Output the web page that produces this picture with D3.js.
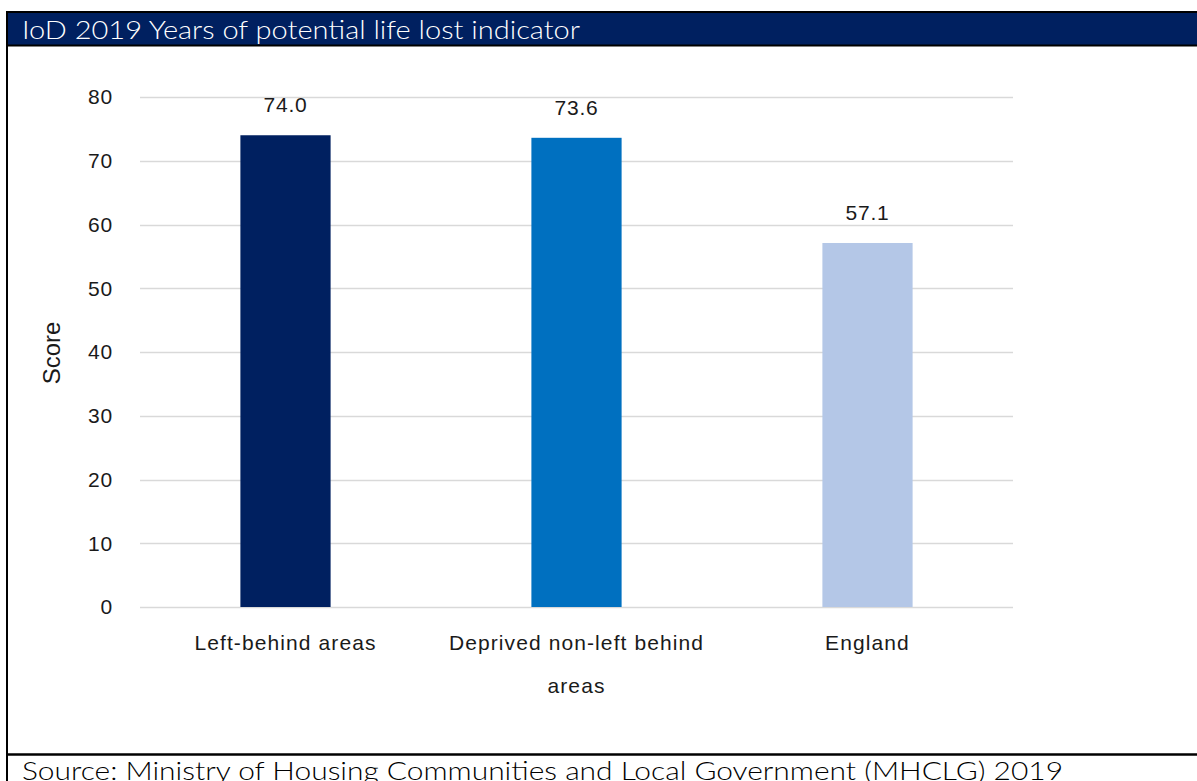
<!DOCTYPE html>
<html>
<head>
<meta charset="utf-8">
<script src="https://cdn.jsdelivr.net/npm/d3@7"></script>
<style>
  html, body { margin: 0; padding: 0; background: #fff; }
  svg { display: block; }
</style>
</head>
<body>
<script>
// Chart data
const categories = ["Left-behind areas", "Deprived non-left behind areas", "England"];
const categoryLines = [["Left-behind areas"], ["Deprived non-left behind", "areas"], ["England"]];
const scores = [74.0, 73.6, 57.1];
const barColors = ["#002060", "#0070C0", "#B4C7E7"];
const yTicks = [0, 10, 20, 30, 40, 50, 60, 70, 80];
const titleText = "IoD 2019 Years of potential life lost indicator";
const sourceText = "Source: Ministry of Housing Communities and Local Government (MHCLG) 2019";
const yAxisLabel = "Score";

const W = 1197, H = 781;
const svg = d3.select("body").append("svg").attr("width", W).attr("height", H);

// Frame and header band
svg.append("rect").attr("x", 7).attr("y", 12).attr("width", W - 7).attr("height", 33).attr("fill", "#002060");
svg.append("line").attr("x1", 6).attr("x2", W).attr("y1", 12).attr("y2", 12).attr("stroke", "#000").attr("stroke-width", 2);
svg.append("line").attr("x1", 6).attr("x2", W).attr("y1", 45.5).attr("y2", 45.5).attr("stroke", "#000").attr("stroke-width", 2);
svg.append("line").attr("x1", 7).attr("x2", 7).attr("y1", 11).attr("y2", H).attr("stroke", "#000").attr("stroke-width", 2);
svg.append("line").attr("x1", 6).attr("x2", W).attr("y1", 754.5).attr("y2", 754.5).attr("stroke", "#000").attr("stroke-width", 2.5);

const frameFont = "'Lato', 'Noto Sans', sans-serif";
svg.append("text").attr("x", 22).attr("y", 39)
  .attr("fill", "#fff").attr("font-family", frameFont).attr("font-weight", 300)
  .attr("font-size", 25).attr("textLength", 558).attr("lengthAdjust", "spacingAndGlyphs")
  .text(titleText);

// Source line sits on the bottom edge of the frame
svg.append("text").attr("x", 22).attr("y", 780)
  .attr("fill", "#000").attr("font-family", frameFont).attr("font-weight", 300)
  .attr("font-size", 25).attr("textLength", 1041).attr("lengthAdjust", "spacingAndGlyphs")
  .text(sourceText);

// Plot area
const x = d3.scaleBand().domain(categories).range([140, 1013]).paddingInner(0.69).paddingOuter(0.345);
const y = d3.scaleLinear().domain([0, 80]).range([607, 97]);

const font = "'Liberation Sans', Arial, sans-serif";
const fs = 21;
const ls = 1.1;

// Gridlines
svg.append("g").selectAll("line").data(yTicks).join("line")
  .attr("x1", 140).attr("x2", 1013)
  .attr("y1", d => Math.round(y(d)) + 0.5).attr("y2", d => Math.round(y(d)) + 0.5)
  .attr("stroke", "#D9D9D9").attr("stroke-width", 1.3);

// Y tick labels
svg.append("g").selectAll("text").data(yTicks).join("text")
  .attr("x", 113).attr("y", d => y(d)).attr("dy", "0.35em")
  .attr("text-anchor", "end").attr("font-family", font).attr("font-size", fs)
  .attr("letter-spacing", 0.8).attr("fill", "#1a1a1a")
  .text(d => d);

// Bars
svg.append("g").selectAll("rect").data(categories).join("rect")
  .attr("x", d => x(d)).attr("width", x.bandwidth())
  .attr("y", (d, i) => y(scores[i])).attr("height", (d, i) => y(0) - y(scores[i]))
  .attr("fill", (d, i) => barColors[i]);

// Value labels
svg.append("g").selectAll("text").data(categories).join("text")
  .attr("x", d => x(d) + x.bandwidth() / 2).attr("y", (d, i) => y(scores[i]) - 23)
  .attr("text-anchor", "middle").attr("font-family", font).attr("font-size", fs)
  .attr("letter-spacing", 0.8).attr("fill", "#1a1a1a")
  .text((d, i) => scores[i].toFixed(1));

// Category labels
const cat = svg.append("g").selectAll("text").data(categories).join("text")
  .attr("x", d => x(d) + x.bandwidth() / 2).attr("y", 650)
  .attr("text-anchor", "middle").attr("font-family", font).attr("font-size", fs)
  .attr("letter-spacing", ls).attr("fill", "#1a1a1a");
cat.selectAll("tspan").data((d, i) => categoryLines[i]).join("tspan")
  .attr("x", function () { return d3.select(this.parentNode).attr("x"); })
  .attr("dy", (d, j) => j === 0 ? 0 : 43)
  .text(d => d);

// Y axis title
svg.append("text").attr("transform", "translate(60,353) rotate(-90)")
  .attr("text-anchor", "middle").attr("font-family", font).attr("font-size", 24)
  .attr("fill", "#1a1a1a")
  .text(yAxisLabel);
</script>
</body>
</html>
